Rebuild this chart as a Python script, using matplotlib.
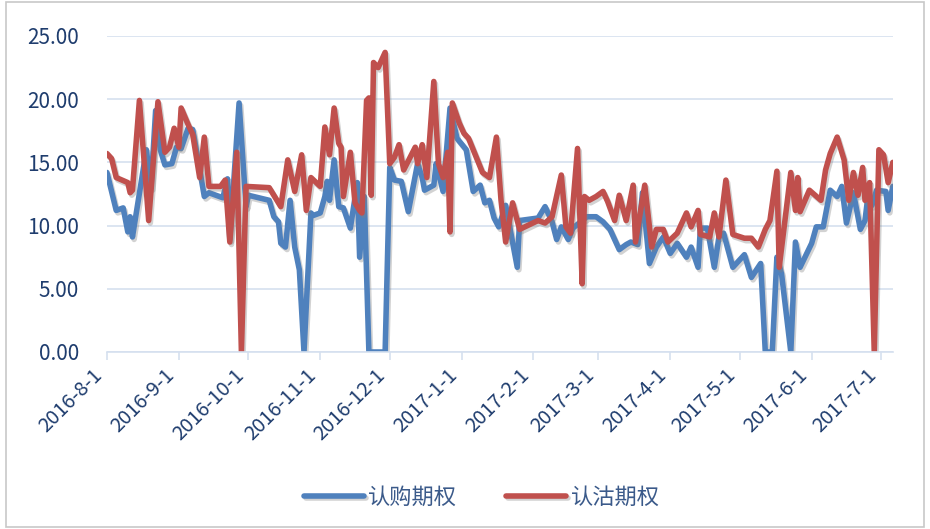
import pandas as pd
import matplotlib
matplotlib.use('Agg')
import matplotlib.pyplot as plt
import matplotlib.patheffects as pe
from matplotlib.patches import Rectangle

plt.rcParams['font.family'] = ['Noto Sans CJK SC', 'DejaVu Sans']

# 1. data (vertices only)
call_dates = [
    '2016-08-01', '2016-08-05', '2016-08-08', '2016-08-10', '2016-08-11', '2016-08-12', '2016-08-18',
    '2016-08-20', '2016-08-22', '2016-08-24', '2016-08-26', '2016-08-29', '2016-08-31',
    '2016-09-02', '2016-09-05', '2016-09-07', '2016-09-10', '2016-09-12', '2016-09-14', '2016-09-20',
    '2016-09-22', '2016-09-23', '2016-09-27', '2016-09-30',
    '2016-10-01', '2016-10-10', '2016-10-12', '2016-10-14', '2016-10-15', '2016-10-17', '2016-10-19',
    '2016-10-21', '2016-10-23', '2016-10-25', '2016-10-28', '2016-10-29',
    '2016-11-01', '2016-11-03', '2016-11-04', '2016-11-05', '2016-11-07', '2016-11-09', '2016-11-11',
    '2016-11-14', '2016-11-17', '2016-11-18', '2016-11-20', '2016-11-22', '2016-11-29',
    '2016-12-01', '2016-12-03', '2016-12-06', '2016-12-09', '2016-12-13', '2016-12-15', '2016-12-16',
    '2016-12-20', '2016-12-21', '2016-12-22', '2016-12-24', '2016-12-27', '2016-12-30',
    '2017-01-03', '2017-01-06', '2017-01-09', '2017-01-11', '2017-01-13', '2017-01-15', '2017-01-17',
    '2017-01-20', '2017-01-25', '2017-01-26',
    '2017-02-03', '2017-02-06', '2017-02-09', '2017-02-11', '2017-02-13', '2017-02-16', '2017-02-18',
    '2017-02-24', '2017-02-28',
    '2017-03-03', '2017-03-06', '2017-03-10', '2017-03-13', '2017-03-15', '2017-03-18', '2017-03-20',
    '2017-03-23', '2017-03-26', '2017-03-29',
    '2017-04-01', '2017-04-04', '2017-04-08', '2017-04-10', '2017-04-13', '2017-04-14', '2017-04-17',
    '2017-04-20', '2017-04-22', '2017-04-24', '2017-04-28',
    '2017-05-03', '2017-05-06', '2017-05-10', '2017-05-12', '2017-05-15', '2017-05-17', '2017-05-19',
    '2017-05-23', '2017-05-25', '2017-05-27',
    '2017-06-01', '2017-06-03', '2017-06-06', '2017-06-09', '2017-06-12', '2017-06-14', '2017-06-16',
    '2017-06-19', '2017-06-22', '2017-06-24', '2017-06-25', '2017-06-27', '2017-06-29',
    '2017-07-03', '2017-07-04', '2017-07-06',
]
call_values = [
    14.2, 11.2, 11.4, 9.5, 10.7, 9.1, 16.0, 13.0, 19.1, 16.0, 14.8, 14.9, 16.2,
    16.1, 17.7, 17.6, 14.4, 12.3, 12.6, 12.2, 13.7, 8.9, 19.7, 11.5,
    12.4, 12.0, 10.7, 10.3, 8.6, 8.3, 12.0, 8.3, 6.5, 0.0, 11.0, 10.8,
    11.0, 12.3, 13.5, 12.0, 15.2, 11.5, 11.4, 9.8, 13.4, 7.5, 12.3, 0.0, 0.0,
    14.6, 13.6, 13.5, 11.1, 14.9, 13.8, 12.8, 13.2, 14.9, 14.2, 12.7, 19.3, 16.9,
    16.0, 12.7, 13.2, 11.8, 12.0, 10.6, 9.9, 11.6, 6.7, 10.4,
    10.6, 11.5, 10.3, 8.9, 9.9, 8.9, 9.8, 10.7, 10.7,
    10.3, 9.7, 8.1, 8.5, 8.7, 8.5, 12.6, 7.0, 8.3, 9.1,
    7.8, 8.6, 7.5, 8.3, 6.7, 9.8, 9.8, 6.7, 9.1, 9.4, 6.7,
    7.7, 5.9, 7.0, 0.0, 0.0, 7.5, 6.2, 0.0, 8.7, 6.7,
    8.6, 9.9, 9.9, 12.8, 12.3, 13.1, 10.2, 12.6, 9.7, 10.4, 11.9, 11.6, 12.8,
    12.7, 11.2, 13.1,
]

put_dates = [
    '2016-08-01', '2016-08-03', '2016-08-05', '2016-08-10', '2016-08-11', '2016-08-12', '2016-08-15',
    '2016-08-19', '2016-08-23', '2016-08-26', '2016-08-28', '2016-08-30',
    '2016-09-01', '2016-09-02', '2016-09-05', '2016-09-07', '2016-09-10', '2016-09-12', '2016-09-14',
    '2016-09-19', '2016-09-21', '2016-09-23', '2016-09-26', '2016-09-28', '2016-09-30',
    '2016-10-10', '2016-10-15', '2016-10-18', '2016-10-21', '2016-10-24', '2016-10-26', '2016-10-28',
    '2016-11-01', '2016-11-03', '2016-11-05', '2016-11-07', '2016-11-09', '2016-11-10', '2016-11-11',
    '2016-11-14', '2016-11-16', '2016-11-18', '2016-11-19', '2016-11-21', '2016-11-22', '2016-11-23',
    '2016-11-24', '2016-11-26', '2016-11-29',
    '2016-12-01', '2016-12-03', '2016-12-05', '2016-12-07', '2016-12-12', '2016-12-13', '2016-12-15',
    '2016-12-17', '2016-12-20', '2016-12-22', '2016-12-24', '2016-12-26', '2016-12-27', '2016-12-28',
    '2016-12-31',
    '2017-01-02', '2017-01-04', '2017-01-06', '2017-01-10', '2017-01-13', '2017-01-16', '2017-01-18',
    '2017-01-20', '2017-01-23', '2017-01-26',
    '2017-02-03', '2017-02-06', '2017-02-09', '2017-02-13', '2017-02-15', '2017-02-17', '2017-02-20',
    '2017-02-22', '2017-02-23', '2017-02-25', '2017-02-28',
    '2017-03-03', '2017-03-05', '2017-03-08', '2017-03-10', '2017-03-13', '2017-03-16', '2017-03-17',
    '2017-03-21', '2017-03-24', '2017-03-26', '2017-03-29', '2017-03-31',
    '2017-04-04', '2017-04-08', '2017-04-10', '2017-04-13', '2017-04-14', '2017-04-18', '2017-04-20',
    '2017-04-22', '2017-04-25', '2017-04-28',
    '2017-05-03', '2017-05-06', '2017-05-09', '2017-05-12', '2017-05-14', '2017-05-17', '2017-05-18',
    '2017-05-23', '2017-05-25', '2017-05-26', '2017-05-27', '2017-05-31',
    '2017-06-05', '2017-06-07', '2017-06-09', '2017-06-12', '2017-06-15', '2017-06-17', '2017-06-19',
    '2017-06-21', '2017-06-23', '2017-06-24', '2017-06-26', '2017-06-28', '2017-06-30',
    '2017-07-02', '2017-07-04', '2017-07-06',
]
put_values = [
    15.7, 15.3, 13.8, 13.4, 12.6, 12.8, 19.9, 10.4, 19.8, 15.8, 16.2, 17.7,
    16.2, 19.3, 18.0, 17.2, 13.8, 17.0, 13.1, 13.1, 13.6, 8.7, 15.8, 0.0, 13.1,
    13.0, 11.5, 15.2, 12.7, 15.6, 11.2, 13.8,
    13.1, 17.8, 15.6, 19.3, 16.5, 16.2, 12.3, 15.8, 11.8, 11.2, 11.0, 19.9, 20.1, 12.4,
    22.9, 22.5, 23.7,
    14.9, 15.4, 16.4, 14.4, 16.2, 14.9, 16.4, 13.8, 21.4, 14.9, 13.8, 15.8, 9.5, 19.7,
    18.1,
    17.3, 16.9, 16.0, 14.2, 13.8, 17.0, 12.0, 8.7, 11.8, 9.7,
    10.4, 10.2, 10.7, 14.0, 9.9, 9.4, 16.1, 5.4, 12.3, 12.0, 12.3,
    12.7, 11.9, 10.4, 12.4, 10.4, 13.2, 8.7, 13.2, 8.3, 9.7, 9.7, 8.7,
    9.4, 11.0, 9.9, 11.2, 9.3, 9.1, 11.0, 9.1, 13.6, 9.3,
    9.0, 9.0, 8.3, 9.7, 10.4, 14.3, 6.7, 14.2, 11.2, 13.8, 11.1, 12.8,
    12.0, 14.4, 15.7, 17.0, 15.2, 12.0, 14.2, 12.4, 14.6, 12.0, 13.4, 0.0, 16.0,
    15.6, 13.4, 15.0,
]

series_names = ['认购期权', '认沽期权']
y_ticks = [0, 5, 10, 15, 20, 25]
month_ticks = pd.date_range('2016-08-01', '2017-07-01', freq='MS')

call = pd.Series(call_values, index=pd.to_datetime(call_dates))
put = pd.Series(put_values, index=pd.to_datetime(put_dates))

# 2. plot
fig = plt.figure(figsize=(9.3, 5.29), dpi=100)
ax = fig.add_axes([0.115, 0.3346, 0.845, 0.5974])

grid_c = '#d5e0ef'
label_c = '#1f3d6e'
shadow = [pe.SimpleLineShadow(offset=(1.2, -1.8), shadow_color='#808080', alpha=0.35), pe.Normal()]

ax.plot(call.index, call.values, color='#4f81bd', lw=4.0, label=series_names[0],
        solid_joinstyle='round', solid_capstyle='round', path_effects=shadow)
ax.plot(put.index, put.values, color='#c0504d', lw=4.0, label=series_names[1],
        solid_joinstyle='round', solid_capstyle='round', path_effects=shadow)

ax.set_ylim(0, 25)
ax.set_yticks(y_ticks)
ax.set_yticklabels([f'{v:.2f}' for v in y_ticks])
ax.set_xlim(pd.Timestamp('2016-08-01'), call.index[-1])
ax.set_xticks(month_ticks)
ax.set_xticklabels([f'{d.year}-{d.month}-{d.day}' for d in month_ticks],
                   rotation=45, ha='right', va='top')

ax.grid(axis='y', color=grid_c, lw=1.2)
ax.set_axisbelow(True)
for s in ['top', 'right', 'left']:
    ax.spines[s].set_visible(False)
ax.spines['bottom'].set_color(grid_c)
ax.spines['bottom'].set_linewidth(1.2)
ax.tick_params(axis='y', length=0, pad=20, labelsize=15, labelcolor=label_c)
ax.tick_params(axis='x', length=6, width=1.2, color=grid_c, pad=3, labelsize=14.5, labelcolor=label_c)

fig.legend(loc='center', bbox_to_anchor=(0.518, 0.06), ncol=2, frameon=False,
           fontsize=16, handlelength=2.7, handletextpad=0.2, columnspacing=2.2,
           labelcolor='#3b5a8a')

# chart area border
fig.patches.append(Rectangle((0.006, 0.004), 0.988, 0.992, transform=fig.transFigure,
                             fill=False, edgecolor='#c8c8c8', lw=1.2))

plt.savefig('out.png', dpi=100)
